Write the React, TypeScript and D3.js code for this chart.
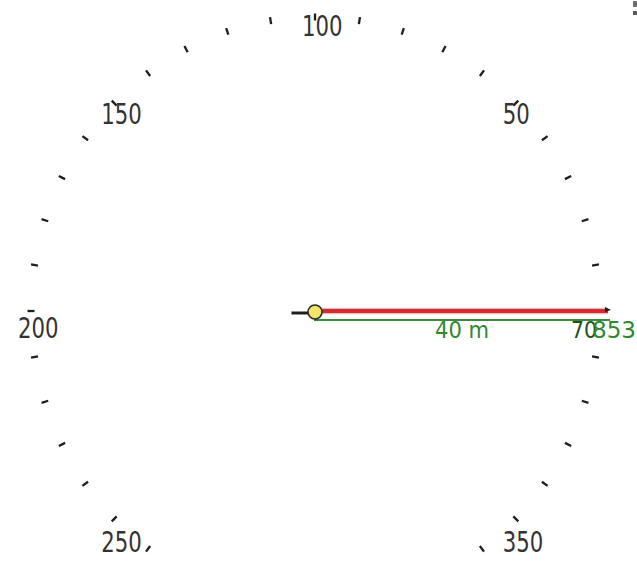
import React from "react";
import * as d3 from "d3";

const W = 637;
const H = 563;

// compass ticks in gradians (400 = full circle), labels every 50
const tickValues: number[] = d3.range(0, 400, 10);
const labelValues: number[] = [50, 100, 150, 200, 250, 350];

// vector data
const vectorBearing = 0; // gradians
const vectorLength = 40; // metres
const tailLength = 3.2; // metres
const scaleBarLength = 40; // metres
const scaleBarLabel = "40 m";
const endLabels: string[] = ["70", "853"];

const narrow = "'Liberation Sans Narrow', 'Arial Narrow', 'DejaVu Sans Condensed', sans-serif";

export default function App() {
  const cx = 315;
  const cy = 311;
  const rx = 284;
  const ry = 294;

  const angle = d3.scaleLinear().domain([0, 400]).range([0, 2 * Math.PI]);
  const dist = d3.scaleLinear().domain([0, 40]).range([0, 294]);

  const pt = (g: number, ox: number, oy: number) => {
    const a = angle(g);
    return [cx + ox * Math.cos(a), cy - oy * Math.sin(a)];
  };

  const va = angle(vectorBearing);
  const vEnd = [cx + dist(vectorLength) * Math.cos(va) - 1, cy - dist(vectorLength) * Math.sin(va)];
  const vTail = [cx - dist(tailLength) * Math.cos(va), cy + dist(tailLength) * Math.sin(va)];

  const barY = cy + 9;
  const barX0 = cx - 1;
  const barX1 = cx + dist(scaleBarLength) + 1;
  const textY = barY + 18;

  return (
    <div style={{ position: "fixed", left: 0, top: 0, width: W, height: H, background: "#fff" }}>
      <svg width={W} height={H} style={{ display: "block" }}>
        <rect width={W} height={H} fill="#fff" />
        {tickValues.map((g) => {
          const [x1, y1] = pt(g, rx - 3.5, ry - 3.5);
          const [x2, y2] = pt(g, rx + 3.5, ry + 3.5);
          return (
            <line key={"t" + g} x1={x1} y1={y1} x2={x2} y2={y2} stroke="#1e1e1e" strokeWidth={2.3} />
          );
        })}
        {labelValues.map((g) => {
          const a = angle(g);
          const [tx] = pt(g, rx, ry);
          const yc = cy + 16.5 - 302 * Math.sin(a);
          const s = String(g);
          return (
            <text
              key={"l" + g}
              x={tx - 13}
              y={yc + 10.5}
              fontFamily={narrow}
              fontSize={29}
              fill="#333"
              textLength={s.length * 13.5}
              lengthAdjust="spacingAndGlyphs"
            >
              {s}
            </text>
          );
        })}
        {/* scale bar */}
        <line x1={barX0} y1={barY} x2={barX1} y2={barY} stroke="#3d8c3d" strokeWidth={2} />
        <text
          x={(barX0 + barX1) / 2}
          y={textY}
          textAnchor="middle"
          fontFamily={narrow}
          fontSize={23}
          fill="#2f8a2f"
          textLength={54}
          lengthAdjust="spacingAndGlyphs"
        >
          {scaleBarLabel}
        </text>
        <text
          x={571}
          y={textY}
          fontFamily={narrow}
          fontSize={23}
          fill="#1d4f1d"
          textLength={26}
          lengthAdjust="spacingAndGlyphs"
        >
          {endLabels[0]}
        </text>
        <text
          x={592}
          y={textY}
          fontFamily={narrow}
          fontSize={23}
          fill="#2f8a2f"
          textLength={44}
          lengthAdjust="spacingAndGlyphs"
        >
          {endLabels[1]}
        </text>
        {/* vector */}
        <line x1={cx} y1={cy} x2={vEnd[0]} y2={vEnd[1]} stroke="#c8c8c8" strokeWidth={6.5} />
        <line x1={cx} y1={cy} x2={vEnd[0]} y2={vEnd[1]} stroke="#e3262b" strokeWidth={4} />
        <path
          d={`M${vEnd[0] + 3},${vEnd[1] - 1} L${vEnd[0] - 3},${vEnd[1] - 4} L${vEnd[0] - 3},${vEnd[1] + 1} Z`}
          fill="#1e1e1e"
        />
        <line x1={vTail[0]} y1={cy + 2} x2={cx} y2={cy + 2} stroke="#1e1e1e" strokeWidth={3} />
        <circle cx={cx} cy={cy + 1} r={7} fill="#f3e46a" stroke="#2a2a2a" strokeWidth={1.6} />
        {/* clipped marks at top-right edge */}
        <rect x={633} y={1} width={4} height={6} fill="#333" opacity={0.7} />
        <rect x={633} y={11} width={4} height={4} fill="#333" opacity={0.8} />
      </svg>
    </div>
  );
}
